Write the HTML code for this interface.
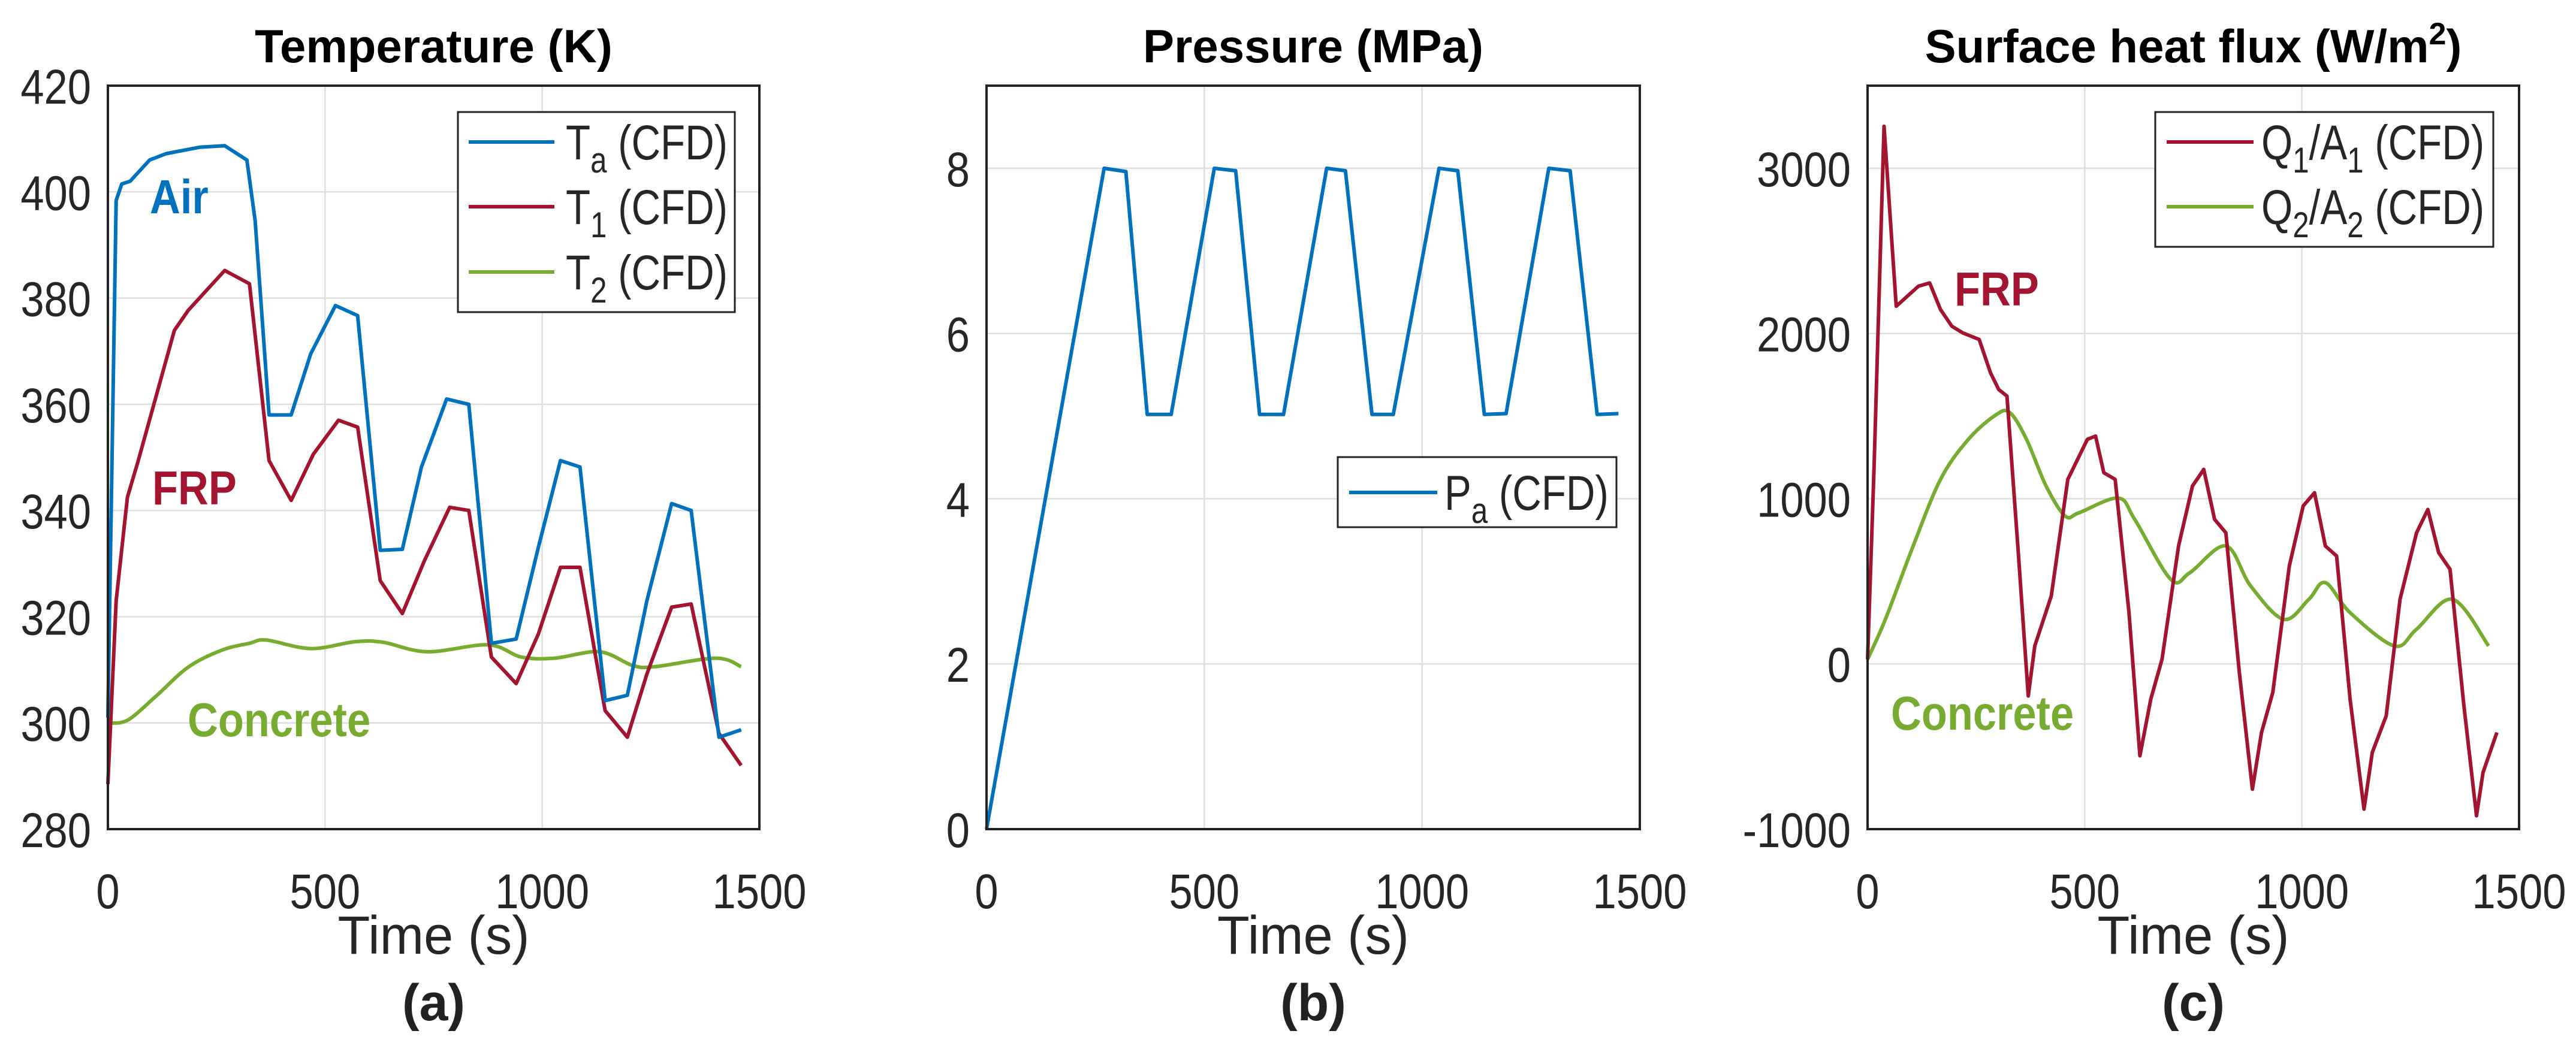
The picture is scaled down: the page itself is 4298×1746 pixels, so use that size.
<!DOCTYPE html>
<html><head><meta charset="utf-8">
<style>
html,body{margin:0;padding:0;background:#fff;}
svg{display:block;}
text{font-family:"Liberation Sans",sans-serif;}
</style></head>
<body>
<svg id="fig" xmlns="http://www.w3.org/2000/svg" width="4298" height="1746" viewBox="0 0 4298 1746"></svg>
<script>
// ---- Panel (a) temperature data ----
const taTime=[0,19,32,51,96,134,211,269,320,339,371,422,467,524,575,627,678,722,780,831,883,940,991,1042,1087,1145,1196,1241,1298,1343,1407,1458];
const taVal=[301,398.4,401.5,402,406,407.2,408.4,408.7,406,394.6,358,358,369.5,378.6,376.7,332.5,332.7,348.2,361,360,315,315.8,333,349.4,348.2,304.2,305.2,323,341.3,340,297.3,298.7];
const t1Time=[0,19,45,70,153,185,269,326,371,422,473,531,575,627,678,729,787,831,883,940,991,1042,1087,1145,1196,1241,1298,1343,1407,1458];
const t1Val=[288.5,323,342.5,349.4,373.9,377.7,385.2,382.7,349.4,341.9,350.6,357,355.7,326.8,320.6,330.6,340.6,340,312.4,307.4,316.7,329.3,329.3,302.3,297.3,309.2,321.8,322.4,298,292];
const t2Time=[0,45,109,185,262,326,365,467,569,633,735,876,952,1029,1132,1209,1260,1400,1458];
const t2Val=[300,300.5,304.9,310.5,313.7,315,315.6,314,315.3,315.2,313.4,314.7,312.4,312.2,313.4,310.8,310.6,312.2,310.6];
const aTicksY=[280,300,320,340,360,380,400,420];
// ---- Panel (b) pressure data ----
const paTime=[0,270,320,369,424,523,572,627,682,781,824,885,934,1039,1082,1143,1193,1291,1340,1402,1451];
const paVal=[0,8,7.96,5.02,5.02,8,7.97,5.02,5.02,8,7.97,5.02,5.02,8,7.97,5.02,5.03,8,7.97,5.02,5.03];
const bTicksY=[0,2,4,6,8];
// ---- Panel (c) heat flux data ----
const q1Time=[0,15,38,66,117,143,168,194,219,257,283,302,321,347,370,385,423,461,506,525,544,570,602,627,652,678,716,748,774,799,825,856,886,907,933,971,1003,1029,1054,1080,1111,1143,1162,1194,1226,1264,1290,1315,1341,1373,1402,1417,1449];
const q1Val=[28,1198,3254,2165,2286,2306,2145,2044,2004,1964,1762,1661,1621,673,-194,109,411,1117,1359,1379,1157,1117,310,-556,-214,28,714,1077,1177,875,794,-52,-758,-415,-173,593,956,1036,714,653,-214,-879,-536,-315,391,794,935,673,573,-254,-919,-657,-415];
const q2Time=[0,41,105,168,232,296,328,366,411,455,487,577,615,698,742,825,882,958,1016,1054,1111,1213,1264,1347,1430];
const q2Val=[28,270,714,1117,1359,1508,1520,1359,1077,895,915,1004,875,512,552,714,472,270,391,492,310,109,210,391,109];
const cTicksY=[-1000,0,1000,2000,3000];
const xTicks=[0,500,1000,1500];

const NS="http://www.w3.org/2000/svg";
const svg=document.getElementById('fig');
function mk(tag,attrs,parent){const e=document.createElementNS(NS,tag);for(const k in attrs)e.setAttribute(k,attrs[k]);(parent||svg).appendChild(e);return e;}
function txt(parent,x,y,sx,attrs){attrs.transform='translate('+x+' '+y+') scale('+sx+' 1)';attrs.x=0;attrs.y=0;return mk('text',attrs,parent);}
const BLUE="#0072BD",RED="#A2142F",GREEN="#77AC30";
const TOP=143,BOT=1384;

function panel(id,L,R,ymin,ymax,yticks,title,letter){
  const g=mk('g',{});
  
  
  const sx=v=>L+(v-0)/1500*(R-L);
  const sy=v=>BOT-(v-ymin)/(ymax-ymin)*(BOT-TOP);
  xTicks.forEach(t=>{const l=mk('line',{x1:sx(t),x2:sx(t),y1:TOP,y2:BOT,stroke:'#dedede','stroke-width':2.5},g);
    });
  yticks.forEach(t=>{const l=mk('line',{x1:L,x2:R,y1:sy(t),y2:sy(t),stroke:'#dedede','stroke-width':2.5},g);
    });
  xTicks.forEach(t=>{const tx=txt(g,sx(t),1516,0.86,{'font-size':82,'text-anchor':'middle',fill:'#262626'});tx.textContent=t;
    });
  yticks.forEach(t=>{const tx=txt(g,L-28,sy(t)+30,0.86,{'font-size':82,'text-anchor':'end',fill:'#262626'});tx.textContent=t;
    });
  const xl=txt(g,(L+R)/2,1592,0.98,{'font-size':90,'text-anchor':'middle',fill:'#262626'});xl.textContent='Time (s)';
  
  const tt=mk('text',{x:(L+R)/2,y:104,'font-size':78,'font-weight':'bold','text-anchor':'middle',fill:'#000'},g);
  
  if(title==='flux'){tt.innerHTML='Surface heat flux (W/m<tspan dy="-30" font-size="52">2</tspan><tspan dy="30">)</tspan>';}
  else tt.textContent=title;
  const lt=mk('text',{x:(L+R)/2,y:1703,'font-size':86,'font-weight':'bold','text-anchor':'middle','font-family':'Liberation Serif, serif',fill:'#222'},g);
  lt.textContent=letter;
  return {g,sx,sy,L,R};
}
function series(p,ts,vs,color,name,smooth){
  const P=ts.map((t,i)=>[p.sx(t),p.sy(vs[i])]);
  let d='M'+P[0][0].toFixed(1)+' '+P[0][1].toFixed(1);
  for(let i=1;i<P.length;i++){
    if(smooth){
      const p0=P[Math.max(i-2,0)],p1=P[i-1],p2=P[i],p3=P[Math.min(i+1,P.length-1)];
      const c1=[p1[0]+(p2[0]-p0[0])/6,p1[1]+(p2[1]-p0[1])/6];
      const c2=[p2[0]-(p3[0]-p1[0])/6,p2[1]-(p3[1]-p1[1])/6];
      d+='C'+c1[0].toFixed(1)+' '+c1[1].toFixed(1)+' '+c2[0].toFixed(1)+' '+c2[1].toFixed(1)+' '+p2[0].toFixed(1)+' '+p2[1].toFixed(1);
    } else d+='L'+P[i][0].toFixed(1)+' '+P[i][1].toFixed(1);
  }
  const e=mk('path',{d:d,fill:'none',stroke:color,'stroke-width':6,'stroke-linejoin':'round'},p.g);
  
}
function frame(p){
  const r=mk('rect',{x:p.L,y:TOP,width:p.R-p.L,height:BOT-TOP,fill:'none',stroke:'#222','stroke-width':4},p.g);
  
}
function legend(g,x1,y1,x2,y2,entries,lx1,lx2,tx){
  const lg=mk('g',{},g);
  mk('rect',{x:x1,y:y1,width:x2-x1,height:y2-y1,fill:'#fff',stroke:'#222','stroke-width':3},lg);
  entries.forEach(en=>{
    const eg=mk('g',{},lg);
    mk('line',{x1:lx1,x2:lx2,y1:en.y,y2:en.y,stroke:en.c,'stroke-width':6},eg);
    const t=txt(eg,tx,en.y+29,0.82,{'font-size':82,fill:'#262626'});t.innerHTML=en.h;
  });
}
function label(g,x,y,s,color,name){
  const t=txt(g,x,y,0.88,{'font-size':80,'font-weight':'bold',fill:color});t.textContent=s;
  
}
const sub=s=>'<tspan dy="22" font-size="60">'+s+'</tspan><tspan dy="-22">';

// Panel a
const pa=panel('a',180,1267,280,420,aTicksY,'Temperature (K)','(a)');
series(pa,t2Time,t2Val,GREEN,'t2-line',true);
series(pa,t1Time,t1Val,RED,'t1-line');
series(pa,taTime,taVal,BLUE,'ta-line');
frame(pa);
legend(pa.g,764,187,1226,521,[
 {y:237,c:BLUE,h:'T'+sub('a')+' (CFD)</tspan>'},
 {y:345,c:RED,h:'T'+sub('1')+' (CFD)</tspan>'},
 {y:454,c:GREEN,h:'T'+sub('2')+' (CFD)</tspan>'}],782,925,944);
label(pa.g,250,356,'Air',BLUE,'air-label');
label(pa.g,254,842,'FRP',RED,'frp-label');
label(pa.g,313,1229,'Concrete',GREEN,'concrete-label');

// Panel b
const pb=panel('b',1646,2736,0,9,bTicksY,'Pressure (MPa)','(b)');
series(pb,paTime,paVal,BLUE,'pa-line');
frame(pb);
legend(pb.g,2232,763,2697,880,[{y:822,c:BLUE,h:'P'+sub('a')+' (CFD)</tspan>'}],2251,2398,2410);

// Panel c
const pc=panel('c',3116,4203,-1000,3500,cTicksY,'flux','(c)');
series(pc,q2Time,q2Val,GREEN,'q2-line',true);
series(pc,q1Time,q1Val,RED,'q1-line');
frame(pc);
legend(pc.g,3596,187,4160,412,[
 {y:237,c:RED,h:'Q'+sub('1')+'/A'+sub('1')+' (CFD)</tspan></tspan>'},
 {y:345,c:GREEN,h:'Q'+sub('2')+'/A'+sub('2')+' (CFD)</tspan></tspan>'}],3615,3760,3773);
label(pc.g,3261,510,'FRP',RED,'frp-label');
label(pc.g,3155,1218,'Concrete',GREEN,'concrete-label');
</script>
</body></html>
